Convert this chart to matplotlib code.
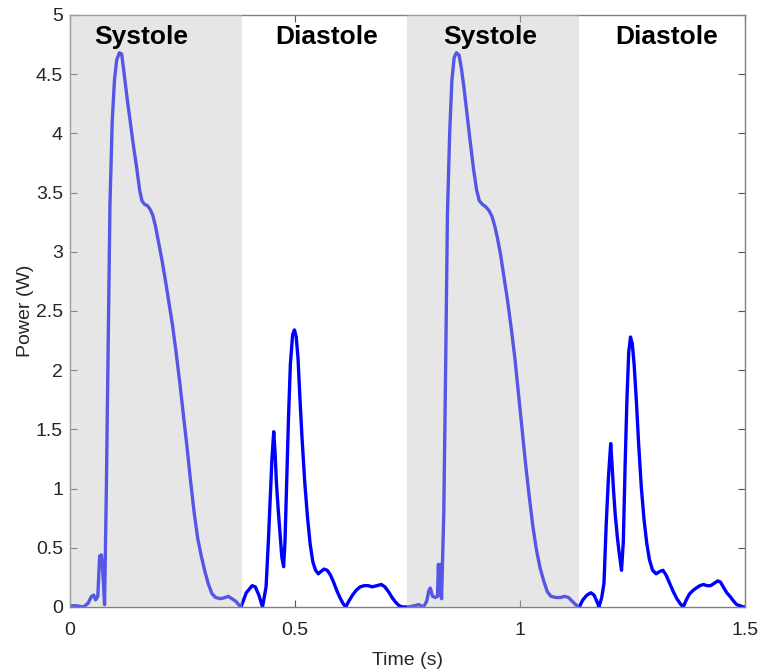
import matplotlib
matplotlib.use('Agg')
import matplotlib.pyplot as plt

plt.rcParams['font.family'] = ['Liberation Sans', 'DejaVu Sans']

# dados ------------------------------------------------------------------------------------
time_s = [
  0.000, 0.015, 0.030, 0.040, 0.048, 0.053, 0.057, 0.062, 0.066, 0.070, 0.073, 0.077,
  0.081, 0.085, 0.089, 0.094, 0.099, 0.104, 0.110, 0.115, 0.120, 0.127, 0.134, 0.141,
  0.148, 0.155, 0.160, 0.166, 0.172, 0.178, 0.184, 0.190, 0.197, 0.205, 0.213, 0.220,
  0.228, 0.236, 0.244, 0.252, 0.260, 0.268, 0.276, 0.284, 0.292, 0.300, 0.308, 0.316,
  0.324, 0.335, 0.345, 0.352, 0.360, 0.368, 0.375, 0.380,
  0.392, 0.405, 0.412, 0.420, 0.428, 0.436, 0.441, 0.445, 0.449, 0.453, 0.456, 0.459,
  0.463, 0.467, 0.471, 0.475, 0.478, 0.482, 0.486, 0.490, 0.495, 0.499, 0.503, 0.507,
  0.511, 0.516, 0.522, 0.528, 0.534, 0.540, 0.546, 0.552, 0.558, 0.565, 0.572, 0.579,
  0.586, 0.593, 0.600, 0.607, 0.613, 0.620, 0.628, 0.636, 0.645, 0.654, 0.663, 0.672,
  0.682, 0.692, 0.700, 0.708, 0.716, 0.724, 0.732, 0.740, 0.752, 0.765, 0.775, 0.786,
  0.793, 0.798, 0.801, 0.806, 0.812, 0.817, 0.819, 0.821, 0.823, 0.826, 0.831, 0.835,
  0.839, 0.844, 0.849, 0.854, 0.859, 0.865, 0.870, 0.876, 0.883, 0.890, 0.897, 0.904,
  0.910, 0.917, 0.924, 0.931, 0.938, 0.944, 0.950, 0.957, 0.965, 0.973, 0.981, 0.989,
  0.997, 1.005, 1.013, 1.021, 1.029, 1.037, 1.045, 1.053, 1.061, 1.069, 1.080, 1.090,
  1.100, 1.108, 1.116, 1.124, 1.132,
  1.140, 1.149, 1.158, 1.165, 1.172, 1.176, 1.182, 1.187, 1.192, 1.197, 1.202, 1.205,
  1.208, 1.212, 1.217, 1.221, 1.226, 1.230, 1.234, 1.238, 1.242, 1.246, 1.250, 1.254,
  1.259, 1.264, 1.270, 1.276, 1.282, 1.288, 1.295, 1.303, 1.311, 1.318, 1.325, 1.333,
  1.341, 1.349, 1.356, 1.363, 1.370, 1.377, 1.385, 1.392, 1.400, 1.408, 1.416, 1.424,
  1.432, 1.440, 1.446, 1.452, 1.460, 1.467, 1.475, 1.482, 1.490, 1.496, 1.500,
]
power_w = [
  0.01, 0.01, 0.00, 0.03, 0.09, 0.10, 0.06, 0.09, 0.43, 0.44, 0.30, 0.02,
  1.00, 2.20, 3.40, 4.10, 4.45, 4.62, 4.68, 4.67, 4.52, 4.30, 4.10, 3.90,
  3.72, 3.52, 3.43, 3.40, 3.39, 3.36, 3.31, 3.22, 3.08, 2.92, 2.74, 2.57,
  2.38, 2.15, 1.90, 1.63, 1.36, 1.07, 0.80, 0.58, 0.43, 0.30, 0.19, 0.11,
  0.08, 0.07, 0.08, 0.09, 0.07, 0.05, 0.02, 0.00,
  0.12, 0.18, 0.17, 0.10, 0.00, 0.17, 0.55, 0.90, 1.25, 1.48, 1.30, 1.05,
  0.82, 0.62, 0.42, 0.34, 0.55, 1.10, 1.62, 2.05, 2.30, 2.34, 2.28, 2.10,
  1.78, 1.42, 1.05, 0.76, 0.53, 0.38, 0.31, 0.28, 0.30, 0.32, 0.31, 0.27,
  0.21, 0.14, 0.08, 0.03, 0.00, 0.05, 0.10, 0.14, 0.17, 0.18, 0.18, 0.17,
  0.18, 0.19, 0.17, 0.13, 0.08, 0.04, 0.01, 0.00, 0.00, 0.01, 0.02, 0.00,
  0.05, 0.14, 0.16, 0.09, 0.08, 0.09, 0.36, 0.10, 0.36, 0.07, 0.80, 2.00,
  3.30, 4.00, 4.45, 4.64, 4.68, 4.66, 4.55, 4.38, 4.15, 3.92, 3.70, 3.52,
  3.43, 3.40, 3.38, 3.35, 3.30, 3.22, 3.12, 2.98, 2.78, 2.58, 2.35, 2.10,
  1.80, 1.50, 1.20, 0.93, 0.68, 0.48, 0.33, 0.22, 0.13, 0.09, 0.08, 0.08,
  0.09, 0.08, 0.05, 0.02, 0.00,
  0.06, 0.10, 0.12, 0.10, 0.04, 0.00, 0.08, 0.20, 0.70, 1.10, 1.38, 1.20,
  1.00, 0.78, 0.58, 0.45, 0.31, 0.55, 1.20, 1.75, 2.15, 2.28, 2.22, 2.05,
  1.74, 1.38, 1.01, 0.74, 0.54, 0.40, 0.31, 0.28, 0.30, 0.31, 0.27, 0.20,
  0.13, 0.07, 0.03, 0.00, 0.06, 0.11, 0.14, 0.16, 0.18, 0.19, 0.18, 0.18,
  0.20, 0.22, 0.21, 0.17, 0.12, 0.09, 0.05, 0.02, 0.01, 0.00, 0.00,
]

# fases (inicio, fim) em segundos
systole_spans = [(0.0, 0.383), (0.749, 1.132)]
phase_labels = ['Systole', 'Diastole', 'Systole', 'Diastole']
phase_centers = [0.158, 0.571, 0.935, 1.326]

x_ticks = [0, 0.5, 1, 1.5]
x_ticklabels = ['0', '0.5', '1', '1.5']
y_ticks = [0, 0.5, 1, 1.5, 2, 2.5, 3, 3.5, 4, 4.5, 5]
y_ticklabels = ['0', '0.5', '1', '1.5', '2', '2.5', '3', '3.5', '4', '4.5', '5']

# figura --------------------------------------------------------------------
fig = plt.figure(figsize=(7.6, 6.69), dpi=100)
ax = fig.add_axes([0.092, 0.0927, 0.888, 0.885])

ax.plot(time_s, power_w, color='#0000ff', lw=2.4, zorder=2, solid_joinstyle='round')

# faixa cinza por cima da curva (deixa a curva mais clara na sistole)
for x0, x1 in systole_spans:
  ax.axvspan(x0, x1, color=(0.776, 0.776, 0.776), alpha=0.43, lw=0, zorder=3)

for lbl, xc in zip(phase_labels, phase_centers):
  ax.text(xc, 4.81, lbl, ha='center', va='center', fontsize=19, fontweight='bold',
          color='black', zorder=4)

ax.set_xlim(0, 1.5)
ax.set_ylim(0, 5)
ax.set_xticks(x_ticks)
ax.set_xticklabels(x_ticklabels)
ax.set_yticks(y_ticks)
ax.set_yticklabels(y_ticklabels)

ax.tick_params(direction='in', length=5, width=0.8, color='#555555',
               labelsize=14, labelcolor='#262626', top=True, right=True)
ax.tick_params(axis='x', pad=11)
ax.tick_params(axis='y', pad=5)
for sp in ax.spines.values():
  sp.set_color('#808080')
  sp.set_linewidth(1.0)

ax.set_xlabel('Time (s)', fontsize=14, color='#262626', labelpad=9)
ax.set_ylabel('Power (W)', fontsize=14, color='#262626', labelpad=1)

fig.savefig('out.png', dpi=100)
